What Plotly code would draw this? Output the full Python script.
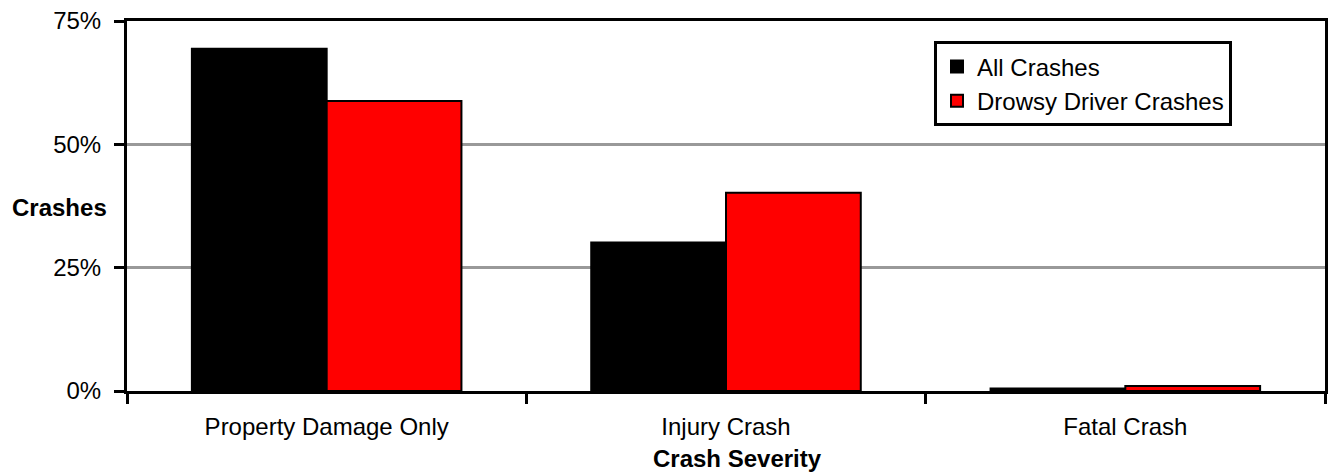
import plotly.graph_objects as go

# Share of crashes by severity
categories = ["Property Damage Only", "Injury Crash", "Fatal Crash"]
all_crashes = [69.4, 30.1, 0.5]
drowsy_crashes = [58.8, 40.2, 1.0]
y_ticks = [0, 25, 50, 75]
y_tick_labels = ["0%", "25%", "50%", "75%"]

FONT = "Liberation Sans, Arial, sans-serif"
SIZE = 24

fig = go.Figure()
fig.add_trace(go.Bar(
    name="All Crashes", x=categories, y=all_crashes,
    marker=dict(color="#000000", line=dict(color="#000000", width=2)),
))
fig.add_trace(go.Bar(
    name="Drowsy Driver Crashes", x=categories, y=drowsy_crashes,
    marker=dict(color="#ff0000", line=dict(color="#000000", width=2)),
))

fig.update_layout(
    width=1330, height=472,
    margin=dict(l=127, r=2, t=21, b=81),
    paper_bgcolor="white", plot_bgcolor="white",
    barmode="group", bargap=0.325, bargroupgap=0,
    font=dict(family=FONT, size=SIZE, color="#000000"),
    showlegend=True,
    legend=dict(
        x=0.6736, y=0.945, xanchor="left", yanchor="top",
        bordercolor="#000000", borderwidth=3, bgcolor="white",
        font=dict(family=FONT, size=SIZE, color="#000000"),
        itemwidth=30,
    ),
    xaxis=dict(
        type="category",
        tickson="boundaries",
        ticks="outside", ticklen=10, tickwidth=3, tickcolor="#000000",
        showline=True, linecolor="#000000", linewidth=3, mirror=True,
        showgrid=False, zeroline=False,
        ticklabelstandoff=12,
        tickfont=dict(family=FONT, size=SIZE),
    ),
    yaxis=dict(
        range=[0, 75],
        tickmode="array", tickvals=y_ticks, ticktext=y_tick_labels,
        ticks="outside", ticklen=10, tickwidth=3, tickcolor="#000000",
        showline=True, linecolor="#000000", linewidth=3, mirror=True,
        showgrid=True, gridcolor="#999999", gridwidth=3,
        zeroline=False,
        ticklabelstandoff=8,
        tickfont=dict(family=FONT, size=SIZE),
    ),
)

fig.add_annotation(
    text="<b>Crashes</b>", xref="paper", yref="paper",
    x=-0.0974, y=0.497, xanchor="left", yanchor="middle", showarrow=False,
    font=dict(family=FONT, size=SIZE, color="#000000"),
)
fig.add_annotation(
    text="<b>Crash Severity</b>", xref="paper", yref="paper",
    x=0.51, y=-0.182, xanchor="center", yanchor="middle", showarrow=False,
    font=dict(family=FONT, size=SIZE, color="#000000"),
)

fig.write_html("out.html")
